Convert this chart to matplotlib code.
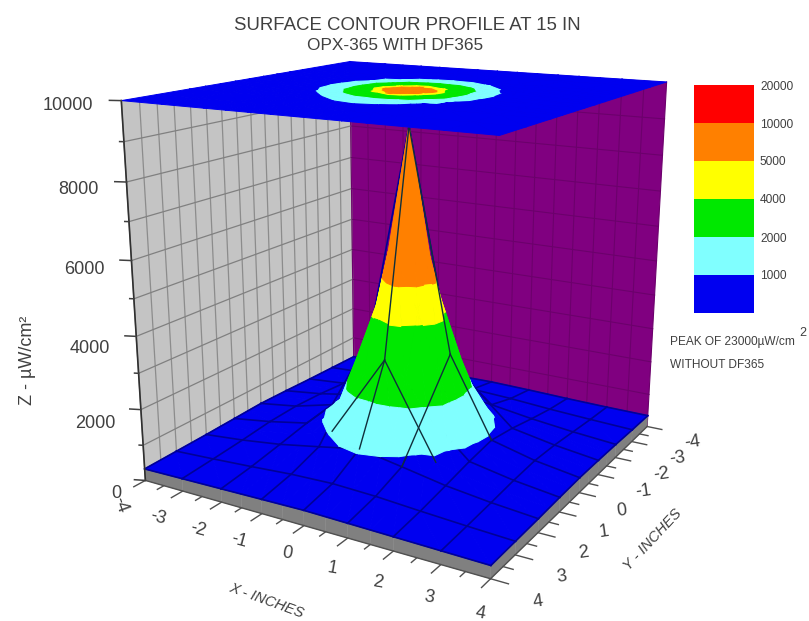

import numpy as np, matplotlib
matplotlib.use('Agg')
import matplotlib.pyplot as plt
from mpl_toolkits.mplot3d.art3d import Poly3DCollection

# ---------- data ----------
GRID = [-4, -3, -2, -1.5, -1, -0.5, 0, 0.5, 1, 1.5, 2, 3, 4]
Z_VALUES = [
    [340, 360, 380, 390, 400, 410, 420, 410, 400, 390, 370, 350, 340],
    [360, 420, 480, 520, 560, 590, 600, 590, 550, 510, 470, 410, 360],
    [380, 480, 610, 680, 780, 850, 900, 860, 790, 690, 620, 490, 390],
    [390, 520, 680, 840, 1020, 1250, 1400, 1260, 1030, 850, 690, 530, 400],
    [410, 560, 780, 1020, 1800, 2650, 3050, 2680, 1830, 1030, 790, 570, 410],
    [420, 590, 840, 1250, 2700, 4300, 5600, 4350, 2750, 1270, 850, 600, 420],
    [430, 600, 900, 1400, 3100, 5700, 9100, 5700, 3100, 1420, 910, 610, 420],
    [420, 590, 850, 1270, 2750, 4350, 5650, 4350, 2750, 1270, 850, 590, 410],
    [400, 570, 790, 1040, 1850, 2700, 3100, 2700, 1850, 1040, 790, 560, 400],
    [390, 530, 700, 860, 1050, 1300, 1450, 1310, 1060, 870, 700, 520, 390],
    [370, 480, 630, 700, 840, 1000, 1060, 1010, 850, 710, 630, 480, 370],
    [350, 410, 480, 520, 560, 590, 600, 590, 560, 520, 480, 410, 350],
    [330, 350, 370, 380, 390, 400, 410, 400, 390, 380, 370, 350, 330],
]
LEVELS = [0, 1000, 2000, 4000, 5000, 10000, 20000]
BAND_COLORS = ['#0000f0', '#80ffff', '#00e800', '#ffff00', '#ff8000', '#ff0000']
LEGEND_LABELS = ['1000', '2000', '4000', '5000', '10000', '20000']
Z_TICKS = [0, 2000, 4000, 6000, 8000, 10000]
X_TICK_LABELS = ['-4', '-3', '-2', '-1', '0', '1', '2', '3', '4']
Y_TICK_LABELS = ['-4', '-3', '-2', '-1', '0', '1', '2', '3', '4']
TITLE_LINES = ['SURFACE CONTOUR PROFILE AT 15 IN', 'OPX-365 WITH DF365']
# mesh lines seen on the cone, as (x, y) node pairs
CONE_MESH = [((0, 0), (0, 1)), ((0, 0), (1, 0)), ((0, 1), (0, 2)), ((0, 1), (1.5, 1.5)),
             ((0, 1), (-1, 1.5)), ((1, 0), (1, 2)), ((1, 0), (2, 0))]

# ---------- layout ----------
W, H = 809, 621
plt.rcParams['font.family'] = ['Liberation Sans', 'DejaVu Sans']
TXT = '#404040'
fig = plt.figure(figsize=(W / 100, H / 100), dpi=100)
fig.patch.set_facecolor('white')
SCALE, CX, CY = 3445.7, 409.0, 278.9
SIDE = SCALE * 0.185
ax = fig.add_axes([(CX - 0.095 * SCALE) / W, (H - CY - 0.095 * SCALE) / H, SIDE / W, SIDE / H],
                  projection='3d')
ax.computed_zorder = False
ax.set_axis_off()
ax.patch.set_alpha(0)
ax.view_init(elev=15.96, azim=-59.74)
ax.set_proj_type('persp', focal_length=0.362)
ax.set_box_aspect((1, 1, 0.9845))


def limits():
    ax.set_xlim(-4, 4, view_margin=0)
    ax.set_ylim(4, -4, view_margin=0)
    ax.set_zlim(0, 10000, view_margin=0)


limits()
ax.set_autoscale_on(False)


def T(px, py, s, **kw):
    kw.setdefault('ha', 'center')
    kw.setdefault('va', 'center')
    kw.setdefault('color', TXT)
    fig.text(px / W, 1 - py / H, s, **kw)


def clip(poly, lo, hi):
    def half(pts, lev, keep_above):
        out = []
        n = len(pts)
        for i in range(n):
            a, b = pts[i], pts[(i + 1) % n]
            ina = (a[2] >= lev) if keep_above else (a[2] <= lev)
            inb = (b[2] >= lev) if keep_above else (b[2] <= lev)
            if ina:
                out.append(a)
            if ina != inb:
                t = (lev - a[2]) / (b[2] - a[2])
                out.append(tuple(a[k] + t * (b[k] - a[k]) for k in range(3)))
        return out
    p = half(poly, lo, True)
    if len(p) >= 3:
        p = half(p, hi, False)
    return p


G = np.array(GRID, float)
Z = np.array(Z_VALUES, float)
floor_polys, polys, cols, top_polys, top_cols = [], [], [], [], []
for j in range(len(G) - 1):
    for i in range(len(G) - 1):
        a = (G[i], G[j], Z[j, i])
        b = (G[i + 1], G[j], Z[j, i + 1])
        c = (G[i + 1], G[j + 1], Z[j + 1, i + 1])
        d = (G[i], G[j + 1], Z[j + 1, i])
        for tri in ((a, b, c), (a, c, d)):
            for k in range(len(BAND_COLORS)):
                p = clip(list(tri), LEVELS[k], LEVELS[k + 1])
                if len(p) >= 3:
                    if k == 0:
                        floor_polys.append(p)
                    else:
                        polys.append(p)
                        cols.append(BAND_COLORS[k])
                    top_polys.append([(q[0], q[1], 10000) for q in p])
                    top_cols.append(BAND_COLORS[k])

# walls
wall_l = Poly3DCollection([[(-4, -4, 0), (-4, 4, 0), (-4, 4, 10000), (-4, -4, 10000)]],
                          facecolors='#c4c4c4', edgecolors='none', zorder=1)
wall_b = Poly3DCollection([[(-4, -4, 0), (4, -4, 0), (4, -4, 10000), (-4, -4, 10000)]],
                          facecolors='#800080', edgecolors='none', zorder=1)
ax.add_collection3d(wall_l, autolim=False)
ax.add_collection3d(wall_b, autolim=False)
for v in np.arange(-4, 4.01, 0.5):
    ax.plot([-4, -4], [v, v], [0, 10000], color='#8c8c8c', lw=0.9, zorder=1.5)
    ax.plot([v, v], [-4, -4], [0, 10000], color='#6c006c', lw=0.8, zorder=1.5)
for zv in range(1000, 10000, 1000):
    ax.plot([-4, -4], [-4, 4], [zv, zv], color='#808080', lw=0.9, zorder=1.5)
    ax.plot([-4, 4], [-4, -4], [zv, zv], color='#6c006c', lw=0.8, zorder=1.5)

# skirt
skirt = []
for i in range(len(G) - 1):
    skirt.append([(G[i], 4, 0), (G[i + 1], 4, 0), (G[i + 1], 4, Z[-1, i + 1]), (G[i], 4, Z[-1, i])])
    skirt.append([(4, G[i], 0), (4, G[i + 1], 0), (4, G[i + 1], Z[i + 1, -1]), (4, G[i], Z[i, -1])])
ax.add_collection3d(Poly3DCollection(skirt, facecolors='#808080', edgecolors='#808080',
                                     linewidths=0.3, zorder=2), autolim=False)

# blue floor, then its mesh, then the raised cone over both
ax.add_collection3d(Poly3DCollection(floor_polys, facecolors=BAND_COLORS[0], edgecolors=BAND_COLORS[0],
                                     linewidths=0.7, zorder=3), autolim=False)
idx = [GRID.index(v) for v in range(-4, 5)]
for jj in idx:
    for i0, i1 in zip(idx[:-1], idx[1:]):
        ax.plot([G[i0], G[i1]], [G[jj], G[jj]], [Z[jj, i0], Z[jj, i1]],
                color='#000098', lw=1.2, zorder=3.1)
        ax.plot([G[jj], G[jj]], [G[i0], G[i1]], [Z[i0, jj], Z[i1, jj]],
                color='#000098', lw=1.2, zorder=3.1)
ax.add_collection3d(Poly3DCollection(polys, facecolors=cols, edgecolors=cols, linewidths=0.7,
                                     zsort='average', zorder=3.2), autolim=False)
for (xa, ya), (xb, yb) in CONE_MESH:
    za = Z[GRID.index(ya), GRID.index(xa)]
    zb = Z[GRID.index(yb), GRID.index(xb)]
    ax.plot([xa, xb], [ya, yb], [za, zb], color='#10303c', lw=1.0, zorder=4)

# floating contour map
ax.add_collection3d(Poly3DCollection(top_polys, facecolors=top_cols, edgecolors=top_cols,
                                     linewidths=0.7, zsort='average', zorder=5), autolim=False)

# axes lines and ticks
AXC = '#303030'
ax.plot([-4, -4], [4, 4], [0, 10000], color=AXC, lw=1.2, zorder=6)
ax.plot([-4, 4], [4, 4], [0, 0], color='#505050', lw=1.0, zorder=6)
ax.plot([4, 4], [4, -4], [0, 0], color='#505050', lw=1.0, zorder=6)
for v in np.arange(-4, 4.01, 0.5):
    L = 0.35 if float(v).is_integer() else 0.2
    ax.plot([v, v], [4, 4 + L], [0, 0], color='#505050', lw=1.0, zorder=6)
    ax.plot([4, 4 + L], [v, v], [0, 0], color='#505050', lw=1.0, zorder=6)
for zv in range(0, 10001, 1000):
    L = 0.22 if zv % 2000 == 0 else 0.08
    ax.plot([-4 - L, -4], [4 + L * 0.4, 4], [zv, zv], color='#404040', lw=1.1, zorder=6)
limits()

# text
T(407, 25, TITLE_LINES[0], fontsize=13.4)
T(395, 45, TITLE_LINES[1], fontsize=12.4)
for zv, (px, py) in zip(Z_TICKS, [(121, 493), (115, 423), (110, 348), (105, 270), (99, 189), (93, 105)]):
    T(px, py, f'{zv}', ha='right', fontsize=13)
T(28, 360, 'Z - µW/cm²', rotation=90, fontsize=13)
for s, (px, py), r in zip(X_TICK_LABELS,
                          [(120, 505), (158, 518), (198, 530), (239, 541), (287, 553), (332, 568),
                           (378, 582), (429, 597), (480, 613)],
                          [-70, -15, -15, -15, -10, -10, -10, -10, -10]):
    T(px, py, s, rotation=r, fontsize=13)
for s, (px, py) in zip(Y_TICK_LABELS,
                       [(692, 442), (677, 458), (661, 474), (643, 491), (622, 511), (604, 532),
                        (583, 553), (562, 577), (538, 602)]):
    T(px, py, s, rotation=8, fontsize=13)
T(266, 601, 'X - INCHES', rotation=-20, fontsize=10.5, style='italic')
T(653, 540, 'Y - INCHES', rotation=47, fontsize=10.5, style='italic')

# legend
leg = fig.add_axes([694 / W, 1 - 313 / H, 60 / W, 228 / H])
leg.bar([0] * len(BAND_COLORS), [1] * len(BAND_COLORS), bottom=list(range(len(BAND_COLORS))),
        width=1, color=BAND_COLORS, linewidth=0)
leg.set_xlim(-0.5, 0.5)
leg.set_ylim(0, len(BAND_COLORS))
leg.axis('off')
for s, py in zip(LEGEND_LABELS, [276, 239, 200, 162, 125, 87]):
    T(760, py, s, ha='left', fontsize=8.6)
T(670, 342, 'PEAK OF 23000µW/cm', ha='left', fontsize=8.6)
T(803, 333, '2', ha='center', fontsize=9)
T(670, 365, 'WITHOUT DF365', ha='left', fontsize=8.6)

fig.savefig('out.png', dpi=100)
